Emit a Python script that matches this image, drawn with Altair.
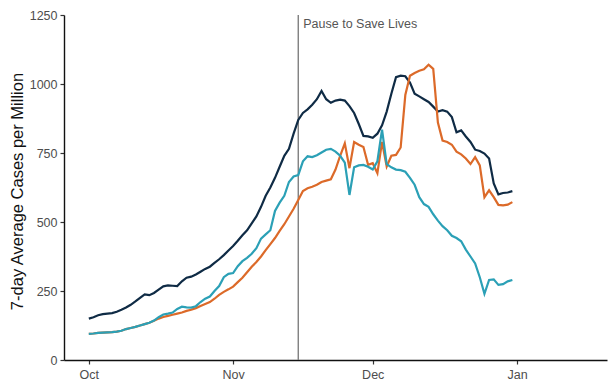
import altair as alt
import pandas as pd

start_date = "2020-10-01"
n_days = 92

navy_vals = [150, 155, 162, 166, 168, 170, 175, 182, 190, 200,
             212, 225, 238, 235, 243, 255, 267, 270, 269, 268,
             285, 298, 302, 310, 320, 330, 338, 352, 365, 380,
             397, 413, 432, 452, 470, 495, 520, 555, 595, 625,
             660, 700, 740, 765, 820, 870, 895, 908, 925, 945,
             975, 945, 932, 940, 943, 940, 920, 895, 855, 812,
             810, 805, 820, 850, 900, 965, 1025, 1030, 1028, 1005,
             965, 955, 945, 935, 918, 900, 905, 900, 880, 825,
             832, 810, 790, 762, 757, 748, 730, 640, 600, 605,
             607, 612]

orange_vals = [95, 96, 98, 99, 100, 101, 103, 106, 112, 116,
               120, 125, 130, 135, 142, 150, 156, 160, 164, 168,
               172, 178, 182, 188, 196, 203, 210, 222, 236, 247,
               256, 266, 282, 298, 318, 338, 355, 375, 398, 420,
               442, 468, 492, 520, 548, 580, 612, 622, 628, 635,
               645, 650, 655, 690, 740, 785, 695, 790, 780, 772,
               707, 713, 677, 790, 701, 740, 743, 770, 960, 1030,
               1040, 1048, 1053, 1070, 1055, 860, 795, 790, 780, 755,
               745, 730, 710, 735, 705, 590, 615, 590, 562, 560,
               563, 572]

teal_vals = [95, 96, 98, 99, 100, 101, 103, 106, 112, 116,
             120, 125, 130, 135, 143, 155, 165, 168, 172, 185,
             193, 191, 190, 195, 210, 222, 230, 250, 268, 300,
             312, 315, 340, 358, 370, 385, 405, 440, 455, 470,
             540, 570, 595, 645, 665, 670, 720, 738, 735, 742,
             752, 762, 765, 755, 740, 715, 598, 698, 705, 707,
             700, 690, 720, 835, 710, 698, 690, 688, 682, 660,
             635, 590, 565, 555, 528, 505, 485, 470, 450, 442,
             430, 400, 375, 350, 300, 240, 290, 292, 272, 275,
             285, 290]

series_names = ["Series 1", "Series 2", "Series 3"]
series_colors = ["#0f2b45", "#dc6a29", "#2ba0b6"]

tick_months = ["Oct", "Nov", "Dec", "Jan"]
y_ticks = [0, 250, 500, 750, 1000, 1250]

event_date = "2020-11-15T00:00:00"
event_label = ["Pause to Save Lives"]

dates = pd.date_range(start_date, periods=n_days, freq="D")
frames = []
for name, vals in zip(series_names, [navy_vals, orange_vals, teal_vals]):
    frames.append(pd.DataFrame({"date": dates, "value": vals, "series": name}))
df = pd.concat(frames, ignore_index=True)

x_scale = alt.Scale(domain=[alt.DateTime(year=2020, month=9, date=25, hours=16),
                            alt.DateTime(year=2021, month=1, date=20, hours=8)])
x_axis = alt.Axis(
    values=[alt.DateTime(year=2020, month=10, date=1),
            alt.DateTime(year=2020, month=11, date=1),
            alt.DateTime(year=2020, month=12, date=1),
            alt.DateTime(year=2021, month=1, date=1)],
    format="%b", title=None, grid=False,
    labelFontSize=12.5, labelColor="#4d4d4d", labelFont="Liberation Sans",
    labelPadding=4, tickSize=4, tickColor="#333333", tickWidth=1.2,
    domainColor="#111111", domainWidth=1.4,
)
y_axis = alt.Axis(
    values=y_ticks, format="d", title="7-day Average Cases per Million", grid=False,
    labelFontSize=12.5, labelColor="#4d4d4d", labelFont="Liberation Sans",
    labelPadding=3, tickSize=4, tickColor="#333333", tickWidth=1.2,
    domainColor="#111111", domainWidth=1.4,
    titleFont="Liberation Sans", titleFontSize=16.5, titleFontWeight="normal",
    titleColor="#111111", titleX=-47, titleY=176, titleBaseline="middle",
    titleAlign="center", titleAngle=270,
)

lines = alt.Chart(df).mark_line(strokeWidth=2.2).encode(
    x=alt.X("date:T", scale=x_scale, axis=x_axis),
    y=alt.Y("value:Q", scale=alt.Scale(domain=[0, 1250], nice=False), axis=y_axis),
    color=alt.Color("series:N", scale=alt.Scale(domain=series_names, range=series_colors), legend=None),
    detail="series:N",
)

ev_df = pd.DataFrame({"date": [pd.Timestamp(event_date)], "label": event_label})
rule = alt.Chart(ev_df).mark_rule(color="#7f7f7f", strokeWidth=1.4).encode(
    x="date:T"
)
text = alt.Chart(ev_df).mark_text(
    align="left", baseline="middle", dx=5, fontSize=12.5, color="#555555",
    font="Liberation Sans"
).encode(x="date:T", y=alt.value(9), text="label:N")

chart = alt.layer(rule, lines, text).properties(
    width=543, height=345,
    autosize=alt.AutoSizeParams(type="none"),
    padding={"left": 56, "top": 7, "right": 1, "bottom": 27},
).configure_view(stroke=None)

chart.save("out.html", embed_options={"renderer": "svg", "actions": False})
